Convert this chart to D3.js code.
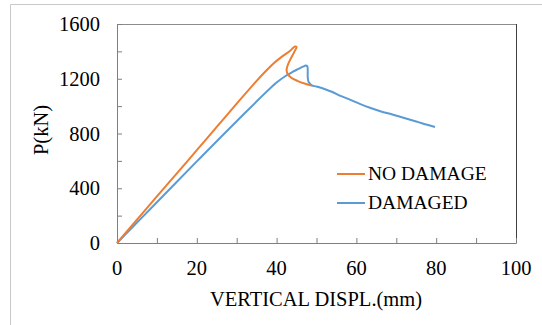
<!DOCTYPE html>
<html>
<head>
<meta charset="utf-8">
<script src="https://cdn.jsdelivr.net/npm/d3@7"></script>
<style>
  body { margin: 0; background: #fff; }
</style>
</head>
<body>
<script>
const noDamage = [
  [0, 0], [5, 170], [10, 340], [15, 508], [20, 678], [25, 848], [30, 1018],
  [35, 1185], [37.5, 1262], [39.5, 1318], [41.5, 1365], [43.4, 1405], [44.6, 1436],
  [45, 1432], [44.6, 1405], [43.6, 1350], [42.8, 1300], [42.5, 1262], [42.9, 1228],
  [43.8, 1205], [45.2, 1185], [47, 1165], [48.8, 1150]
];
const damaged = [
  [0, 0], [10, 298], [20, 596], [30, 890], [40, 1172], [42.5, 1225], [44, 1250],
  [45.5, 1272], [46.6, 1288], [47.3, 1296], [47.7, 1290], [47.8, 1260], [47.8, 1215],
  [48, 1178], [48.8, 1152], [50, 1143], [52.5, 1120], [54, 1103], [56, 1075],
  [58.4, 1048], [61, 1015], [63.4, 988], [66, 963], [69.2, 937], [72, 913],
  [75, 888], [77.5, 866], [79.7, 848]
];
const xTicks = [0, 20, 40, 60, 80, 100];
const yTicks = [0, 400, 800, 1200, 1600];
const seriesNames = ['NO DAMAGE', 'DAMAGED'];
const seriesColors = ['#ED7D31', '#5B9BD5'];

const width = 542, height = 325;
const font = '"Liberation Serif", "Times New Roman", serif';
const svg = d3.select('body').append('svg')
    .attr('width', width)
    .attr('height', height)
    .style('font-family', font);

// outer chart frame (only top and left visible)
svg.append('line').attr('x1', 10.5).attr('x2', width).attr('y1', 4.5).attr('y2', 4.5)
    .attr('stroke', '#c8c8c8');
svg.append('line').attr('x1', 10.5).attr('x2', 10.5).attr('y1', 4.5).attr('y2', height)
    .attr('stroke', '#c8c8c8');

const plot = { left: 117, right: 516, top: 24, bottom: 243 };

const x = d3.scaleLinear().domain([0, 100]).range([plot.left, plot.right]);
const y = d3.scaleLinear().domain([0, 1600]).range([plot.bottom, plot.top]);

// frame top and right
svg.append('line').attr('x1', plot.left).attr('x2', plot.right + 0.5)
    .attr('y1', plot.top + 0.5).attr('y2', plot.top + 0.5).attr('stroke', '#8c8c8c');
svg.append('line').attr('x1', plot.right + 0.5).attr('x2', plot.right + 0.5)
    .attr('y1', plot.top).attr('y2', plot.bottom).attr('stroke', '#404040');

const xAxis = svg.append('g')
    .attr('transform', 'translate(0,' + plot.bottom + ')')
    .call(d3.axisBottom(x).tickValues(d3.range(0, 101, 10)).tickSize(-5).tickFormat(''));
const yAxis = svg.append('g')
    .attr('transform', 'translate(' + plot.left + ',0)')
    .call(d3.axisLeft(y).tickValues(d3.range(0, 1601, 200)).tickSize(-5).tickFormat(''));
[xAxis, yAxis].forEach(a => {
  a.select('.domain').attr('stroke', '#7f7f7f');
  a.selectAll('.tick line').attr('stroke', '#7f7f7f');
});

svg.selectAll('.xlab').data(xTicks).enter().append('text')
    .attr('x', d => x(d))
    .attr('y', 275)
    .attr('text-anchor', 'middle')
    .style('font-family', font)
    .style('font-size', '20.5px')
    .text(d => d);

svg.selectAll('.ylab').data(yTicks).enter().append('text')
    .attr('x', 100)
    .attr('y', d => y(d) + 7)
    .attr('text-anchor', 'end')
    .style('font-family', font)
    .style('font-size', '20.5px')
    .text(d => d);

svg.append('text')
    .attr('x', 316)
    .attr('y', 306)
    .attr('text-anchor', 'middle')
    .style('font-family', font)
    .style('font-size', '20.5px')
    .text('VERTICAL DISPL.(mm)');

svg.append('text')
    .attr('transform', 'translate(48,130) rotate(-90)')
    .attr('text-anchor', 'middle')
    .style('font-family', font)
    .style('font-size', '20.5px')
    .text('P(kN)');

const line = d3.line()
    .x(d => x(d[0]))
    .y(d => y(d[1]))
    .curve(d3.curveCatmullRom);

svg.append('path').datum(damaged)
    .attr('d', line).attr('fill', 'none')
    .attr('stroke', seriesColors[1]).attr('stroke-width', 2);
svg.append('path').datum(noDamage)
    .attr('d', line).attr('fill', 'none')
    .attr('stroke', seriesColors[0]).attr('stroke-width', 2);

// legend
const legend = svg.append('g');
seriesNames.forEach((name, i) => {
  const ly = 174 + i * 29;
  legend.append('line').attr('x1', 337).attr('x2', 365).attr('y1', ly).attr('y2', ly)
      .attr('stroke', seriesColors[i]).attr('stroke-width', 2);
  legend.append('text').attr('x', 368).attr('y', ly + 5.5)
      .style('font-family', font)
      .style('font-size', '19.5px').text(name);
});
</script>
</body>
</html>
